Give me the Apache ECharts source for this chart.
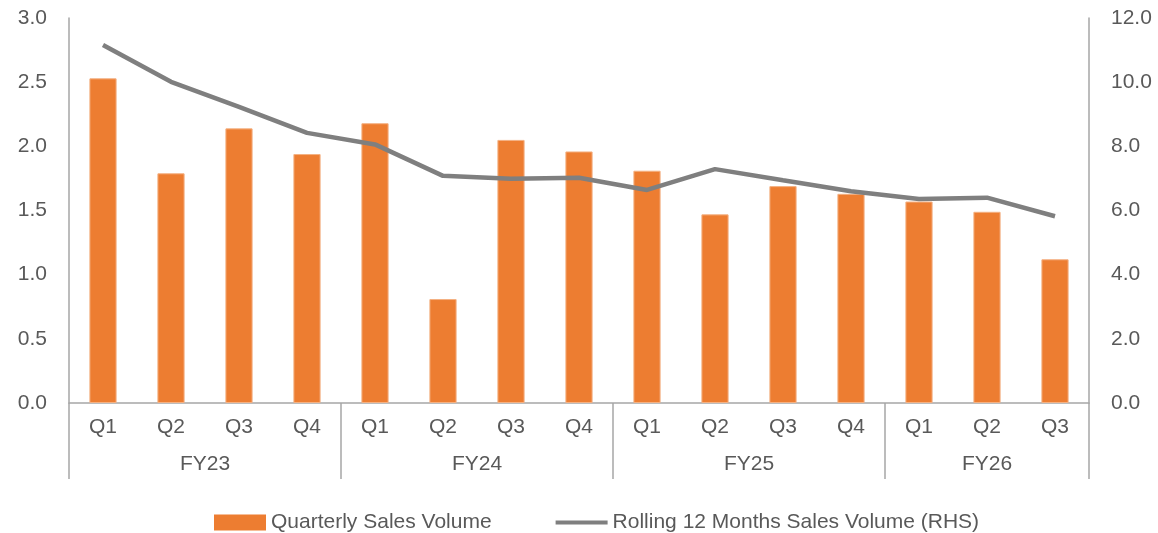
<!DOCTYPE html>
<html>
<head>
<meta charset="utf-8">
<script src="https://cdn.jsdelivr.net/npm/echarts@6/dist/echarts.min.js"></script>
<style>
  html, body { margin: 0; padding: 0; background: #fff; }
  #chart { width: 1158px; height: 533px; }
</style>
</head>
<body>
<div id="chart"></div>
<script>
// quarters along the bottom, grouped by fiscal year
const quarters = ['Q1', 'Q2', 'Q3', 'Q4', 'Q1', 'Q2', 'Q3', 'Q4', 'Q1', 'Q2', 'Q3', 'Q4', 'Q1', 'Q2', 'Q3']
const fiscalYears = ['FY23', 'FY24', 'FY25', 'FY26']
const quartersPerYear = [4, 4, 4, 3]

// quarterly sales volume (LHS)
const quarterlyVolume = [2.53, 1.79, 2.14, 1.94, 2.18, 0.81, 2.05, 1.96, 1.81, 1.47, 1.69, 1.63, 1.57, 1.49, 1.12]
// rolling 12 months sales volume (RHS)
const rollingVolume = [11.16, 10.01, 9.23, 8.42, 8.06, 7.08, 6.99, 7.02, 6.64, 7.29, 6.94, 6.60, 6.36, 6.40, 5.82]

const leftTicks = { min: 0, max: 3, interval: 0.5 }
const rightTicks = { min: 0, max: 12, interval: 2 }

// group boundaries and label centres for the fiscal year row
const yearEdges = [0]
const yearCentres = []
quartersPerYear.forEach((n, i) => {
  yearCentres.push(yearEdges[i] + n / 2)
  yearEdges.push(yearEdges[i] + n)
})

const textColor = '#595959'
const axisColor = '#a6a6a6'
const font = 'Liberation Sans'
const fontSize = 21

const chart = echarts.init(document.getElementById('chart'))

const option = {
  animation: false,
  textStyle: { fontFamily: font },
  grid: { left: 69, right: 69, top: 18, bottom: 130 },
  legend: {
    left: 209,
    top: 507,
    itemWidth: 52,
    itemHeight: 16,
    itemGap: 64,
    textStyle: { color: textColor, fontSize: fontSize, fontFamily: font },
    data: [
      { name: 'Quarterly Sales Volume', icon: 'rect', itemStyle: { borderWidth: 0 } },
      {
        name: 'Rolling 12 Months Sales Volume (RHS)',
        // thin bar centred in the icon box
        icon: 'path://M0,0M52,16M0,6H52V10H0Z',
        itemStyle: { color: '#7f7f7f', borderWidth: 0 },
        lineStyle: { width: 0 }
      }
    ]
  },
  xAxis: [
    {
      type: 'category',
      data: quarters,
      axisLine: { show: true, lineStyle: { color: axisColor, width: 1.5 } },
      axisTick: { show: false },
      axisLabel: { color: textColor, fontSize: fontSize, margin: 14 }
    },
    {
      type: 'value',
      position: 'bottom',
      min: 0,
      max: quarters.length,
      axisLine: { show: false },
      splitLine: { show: false },
      axisTick: {
        show: true,
        customValues: yearEdges,
        length: 76,
        lineStyle: { color: axisColor, width: 1.5 }
      },
      axisLabel: {
        show: true,
        customValues: yearCentres,
        color: textColor,
        fontSize: fontSize,
        margin: 51,
        formatter: (v) => fiscalYears[yearCentres.indexOf(v)]
      }
    }
  ],
  yAxis: [
    {
      type: 'value',
      min: leftTicks.min,
      max: leftTicks.max,
      interval: leftTicks.interval,
      axisLine: { show: true, lineStyle: { color: axisColor, width: 1.5 } },
      axisTick: { show: false },
      splitLine: { show: false },
      axisLabel: { color: textColor, fontSize: fontSize, margin: 22, formatter: (v) => v.toFixed(1) }
    },
    {
      type: 'value',
      position: 'right',
      min: rightTicks.min,
      max: rightTicks.max,
      interval: rightTicks.interval,
      axisLine: { show: true, lineStyle: { color: axisColor, width: 1.5 } },
      axisTick: { show: false },
      splitLine: { show: false },
      axisLabel: { color: textColor, fontSize: fontSize, margin: 22, formatter: (v) => v.toFixed(1) }
    }
  ],
  series: [
    {
      name: 'Quarterly Sales Volume',
      type: 'bar',
      xAxisIndex: 0,
      yAxisIndex: 0,
      data: quarterlyVolume,
      barWidth: '40%',
      itemStyle: { color: '#ed7d31', borderColor: '#f4b183', borderWidth: 1 }
    },
    {
      name: 'Rolling 12 Months Sales Volume (RHS)',
      type: 'line',
      xAxisIndex: 0,
      yAxisIndex: 1,
      data: rollingVolume,
      symbol: 'none',
      lineStyle: { color: '#7f7f7f', width: 4.5 },
      itemStyle: { color: '#7f7f7f' }
    }
  ]
}

chart.setOption(option)
</script>
</body>
</html>
